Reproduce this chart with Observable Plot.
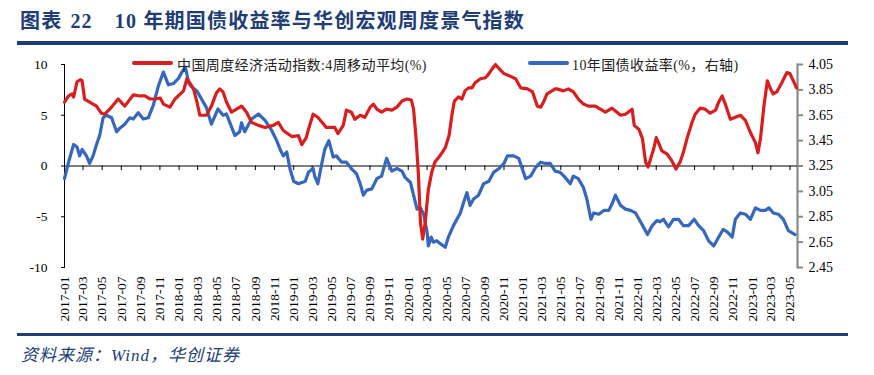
<!DOCTYPE html>
<html><head><meta charset="utf-8">
<script src="https://cdn.jsdelivr.net/npm/d3@7"></script>
<script src="https://cdn.jsdelivr.net/npm/@observablehq/plot@0.6"></script>
<style>
body{margin:0;background:#fff;}
#wrap{position:relative;width:874px;height:375px;overflow:hidden;font-family:"Liberation Serif","Noto Sans CJK SC",serif;}
#title{position:absolute;left:20px;top:5px;font-size:20px;letter-spacing:1.2px;font-weight:bold;color:#203d76;white-space:nowrap;font-family:"Liberation Serif","Noto Sans CJK SC",serif;}
.rule{position:absolute;left:17px;width:831px;background:#203d76;}
#chart{position:absolute;left:0;top:0;}
.leg{position:absolute;font-size:14px;color:#222;white-space:nowrap;letter-spacing:0.4px;}
.legline{position:absolute;height:4px;border-radius:2px;}
#source{position:absolute;left:21px;top:341px;font-size:17px;letter-spacing:1px;font-style:italic;color:#203d76;white-space:nowrap;}
</style></head>
<body>
<div id="wrap">
  <div id="title">图表<span style="margin-left:8px">22</span><span style="margin-left:22px">10</span> 年期国债收益率与华创宏观周度景气指数</div>
  <div class="rule" style="top:41px;height:4px"></div>
  <div id="chart"></div>
  <div class="legline" id="l1" style="left:132px;top:61px;width:41px"></div>
  <div class="leg" id="t1" style="left:177px;top:54px"></div>
  <div class="legline" id="l2" style="left:528px;top:61px;width:41px"></div>
  <div class="leg" id="t2" style="left:572px;top:54px"></div>
  <div class="rule" style="top:333px;height:3px"></div>
  <div id="source">资料来源：Wind，华创证券</div>
</div>
<script>
// ---- data ----
const seriesNames = ["中国周度经济活动指数:4周移动平均(%)", "10年国债收益率(%，右轴)"];
const seriesColors = ["#d81e1e", "#3567bd"];

const leftTicks = [-10, -5, 0, 5, 10];
const rightTicks = [2.45, 2.65, 2.85, 3.05, 3.25, 3.45, 3.65, 3.85, 4.05];
const rightRange = [2.45, 4.05];
const leftRange = [-10, 10];

const xTickLabels = ["2017-01","2017-03","2017-05","2017-07","2017-09","2017-11",
"2018-01","2018-03","2018-05","2018-07","2018-09","2018-11",
"2019-01","2019-03","2019-05","2019-07","2019-09","2019-11",
"2020-01","2020-03","2020-05","2020-07","2020-09","2020-11",
"2021-01","2021-03","2021-05","2021-07","2021-09","2021-11",
"2022-01","2022-03","2022-05","2022-07","2022-09","2022-11",
"2023-01","2023-03","2023-05"];
const xDomain = ["2017-01-01", "2023-05-25"];

const activity = [
["2017-01-01",6.3],["2017-01-14",6.9],["2017-01-25",7.1],["2017-01-30",6.8],["2017-02-10",8.3],["2017-02-20",8.5],
["2017-02-26",8.4],["2017-03-06",6.6],["2017-03-22",6.3],["2017-04-02",6.1],["2017-04-13",5.9],["2017-04-28",5.2],
["2017-05-09",5.1],["2017-05-25",5.6],["2017-06-21",6.6],["2017-07-12",5.9],["2017-08-08",7.0],["2017-08-29",6.9],
["2017-09-14",6.9],["2017-10-01",6.6],["2017-10-16",6.6],["2017-11-02",6.7],["2017-11-12",6.1],["2017-12-03",5.8],
["2017-12-19",6.6],["2018-01-05",7.1],["2018-01-15",7.4],["2018-01-26",8.6],["2018-02-06",8.1],["2018-02-16",7.6],
["2018-02-27",6.3],["2018-03-08",5.0],["2018-03-29",5.0],["2018-04-14",5.9],["2018-04-30",7.2],["2018-05-10",7.6],
["2018-05-21",7.3],["2018-06-01",6.3],["2018-06-17",5.3],["2018-07-03",5.6],["2018-07-19",5.9],["2018-08-04",5.3],
["2018-08-20",4.3],["2018-09-11",4.0],["2018-10-02",3.8],["2018-10-28",4.0],["2018-11-13",4.3],["2018-11-29",3.5],
["2018-12-26",2.9],["2019-01-16",3.0],["2019-01-27",2.1],["2019-02-10",2.8],["2019-02-17",3.6],["2019-03-04",5.1],
["2019-03-19",4.8],["2019-04-15",3.8],["2019-05-12",3.8],["2019-05-22",3.2],["2019-06-08",4.0],["2019-06-18",5.5],
["2019-07-04",5.3],["2019-07-15",4.6],["2019-08-01",5.0],["2019-08-16",4.8],["2019-09-02",5.8],["2019-09-12",6.1],
["2019-09-23",5.6],["2019-10-08",5.3],["2019-10-24",5.6],["2019-11-10",5.5],["2019-11-26",5.8],["2019-12-12",6.4],
["2019-12-28",6.6],["2020-01-11",6.5],["2020-01-18",5.6],["2020-01-26",2.7],["2020-02-02",-0.6],["2020-02-09",-5.6],
["2020-02-16",-7.2],["2020-02-24",-5.6],["2020-03-05",-2.3],["2020-03-16",-0.6],["2020-03-26",0.4],["2020-04-11",1.0],
["2020-04-28",1.8],["2020-05-10",3.0],["2020-05-19",5.0],["2020-05-27",6.4],["2020-06-09",6.8],["2020-06-20",6.6],
["2020-06-30",7.4],["2020-07-11",7.7],["2020-07-22",7.7],["2020-08-01",8.2],["2020-08-18",8.6],["2020-09-03",8.7],
["2020-09-14",9.1],["2020-09-25",9.6],["2020-10-05",10.0],["2020-10-16",9.6],["2020-11-01",9.1],["2020-11-17",8.9],
["2020-12-08",8.6],["2020-12-24",7.7],["2021-01-15",7.6],["2021-01-31",7.3],["2021-02-15",5.9],["2021-02-26",5.8],
["2021-03-07",6.3],["2021-03-18",7.1],["2021-04-03",7.4],["2021-04-13",7.6],["2021-04-19",7.6],["2021-05-09",7.4],
["2021-05-25",7.6],["2021-06-10",7.3],["2021-06-26",6.6],["2021-07-12",6.1],["2021-07-28",5.9],["2021-08-19",5.9],
["2021-09-04",5.6],["2021-09-20",5.3],["2021-10-11",5.7],["2021-10-27",5.3],["2021-11-07",5.0],["2021-11-23",5.1],
["2021-12-14",5.6],["2021-12-21",4.0],["2022-01-05",3.6],["2022-01-16",2.7],["2022-01-26",0.4],["2022-02-03",-0.1],
["2022-02-11",0.7],["2022-02-21",1.7],["2022-03-01",2.8],["2022-03-08",2.3],["2022-03-19",1.5],["2022-04-04",1.2],
["2022-04-20",0.5],["2022-05-03",-0.3],["2022-05-16",0.4],["2022-05-26",1.3],["2022-06-07",2.7],["2022-06-23",4.3],
["2022-07-03",5.1],["2022-07-19",5.7],["2022-08-04",5.6],["2022-08-20",5.2],["2022-09-06",5.5],["2022-09-16",6.3],
["2022-09-27",6.9],["2022-10-07",6.1],["2022-10-23",4.6],["2022-11-08",4.8],["2022-11-24",5.0],["2022-12-10",4.5],
["2022-12-26",3.3],["2023-01-11",2.3],["2023-01-19",1.3],["2023-01-27",2.7],["2023-02-07",5.9],["2023-02-18",8.4],
["2023-02-28",7.6],["2023-03-09",7.1],["2023-03-20",7.3],["2023-04-05",8.2],["2023-04-21",9.2],["2023-05-01",9.1],
["2023-05-22",7.7]
];

const yield10y = [
["2017-01-01",3.15],["2017-01-14",3.28],["2017-01-30",3.42],["2017-02-10",3.40],["2017-02-18",3.33],["2017-02-26",3.38],
["2017-03-12",3.33],["2017-03-22",3.27],["2017-04-02",3.33],["2017-04-13",3.42],["2017-04-23",3.49],["2017-05-04",3.63],
["2017-05-15",3.65],["2017-05-31",3.63],["2017-06-16",3.52],["2017-06-27",3.55],["2017-07-12",3.58],["2017-07-28",3.63],
["2017-08-08",3.62],["2017-08-24",3.67],["2017-09-09",3.62],["2017-09-25",3.63],["2017-10-11",3.73],["2017-10-27",3.88],
["2017-11-12",3.99],["2017-11-28",3.89],["2017-12-14",3.90],["2017-12-30",3.94],["2018-01-10",3.99],["2018-01-21",4.03],
["2018-02-01",3.90],["2018-02-11",3.87],["2018-02-27",3.84],["2018-03-13",3.78],["2018-03-29",3.71],["2018-04-14",3.58],
["2018-05-05",3.70],["2018-05-21",3.65],["2018-06-01",3.66],["2018-06-12",3.59],["2018-06-28",3.49],["2018-07-13",3.52],
["2018-07-19",3.59],["2018-07-29",3.52],["2018-08-20",3.62],["2018-09-11",3.66],["2018-10-02",3.61],["2018-10-23",3.53],
["2018-11-08",3.45],["2018-11-19",3.38],["2018-11-29",3.33],["2018-12-10",3.36],["2018-12-20",3.23],["2019-01-01",3.13],
["2019-01-16",3.11],["2019-01-27",3.12],["2019-02-07",3.13],["2019-02-17",3.20],["2019-03-04",3.23],["2019-03-09",3.17],
["2019-03-19",3.11],["2019-03-30",3.25],["2019-04-10",3.38],["2019-04-23",3.45],["2019-05-07",3.32],["2019-05-17",3.33],
["2019-06-03",3.28],["2019-06-18",3.28],["2019-07-04",3.23],["2019-07-20",3.19],["2019-08-01",3.11],["2019-08-11",3.02],
["2019-08-22",3.06],["2019-09-07",3.07],["2019-09-23",3.15],["2019-10-08",3.17],["2019-10-24",3.31],["2019-11-10",3.21],
["2019-11-26",3.23],["2019-12-12",3.21],["2019-12-22",3.16],["2020-01-08",3.12],["2020-01-18",3.02],["2020-01-29",2.91],
["2020-02-09",2.92],["2020-02-19",2.87],["2020-03-01",2.73],["2020-03-05",2.62],["2020-03-14",2.69],["2020-03-21",2.65],
["2020-04-01",2.66],["2020-04-11",2.64],["2020-04-28",2.61],["2020-05-08",2.69],["2020-05-24",2.78],["2020-06-04",2.83],
["2020-06-15",2.88],["2020-06-25",2.96],["2020-07-06",3.04],["2020-07-16",2.94],["2020-07-27",2.99],["2020-08-12",3.02],
["2020-08-28",3.11],["2020-09-14",3.13],["2020-09-29",3.20],["2020-10-16",3.23],["2020-11-01",3.27],["2020-11-12",3.33],
["2020-12-02",3.33],["2020-12-18",3.31],["2021-01-09",3.15],["2021-01-25",3.17],["2021-02-10",3.24],["2021-02-26",3.28],
["2021-03-12",3.27],["2021-03-28",3.27],["2021-04-13",3.21],["2021-04-29",3.20],["2021-05-15",3.16],["2021-05-31",3.11],
["2021-06-10",3.17],["2021-06-26",3.15],["2021-07-12",3.08],["2021-07-23",2.99],["2021-08-05",2.83],["2021-08-14",2.88],
["2021-08-30",2.87],["2021-09-15",2.90],["2021-10-01",2.90],["2021-10-11",2.95],["2021-10-22",3.02],["2021-11-07",2.94],
["2021-11-23",2.91],["2021-12-09",2.90],["2021-12-25",2.88],["2022-01-10",2.81],["2022-02-01",2.71],["2022-02-16",2.78],
["2022-03-03",2.82],["2022-03-13",2.81],["2022-03-24",2.83],["2022-04-09",2.77],["2022-04-25",2.83],["2022-05-11",2.83],
["2022-05-26",2.78],["2022-06-12",2.78],["2022-06-30",2.83],["2022-07-14",2.78],["2022-07-30",2.74],["2022-08-15",2.66],
["2022-08-31",2.62],["2022-09-16",2.69],["2022-09-30",2.75],["2022-10-13",2.73],["2022-10-29",2.69],["2022-11-08",2.83],
["2022-11-24",2.88],["2022-12-10",2.87],["2022-12-26",2.83],["2023-01-11",2.92],["2023-01-27",2.90],["2023-02-12",2.90],
["2023-02-23",2.92],["2023-03-09",2.88],["2023-03-25",2.87],["2023-04-10",2.83],["2023-04-26",2.74],["2023-05-17",2.71]
];

// ---- build ----
const parse = d3.utcParse("%Y-%m-%d");
const parseM = d3.utcParse("%Y-%m");
const toLeft = d3.scaleLinear().domain(rightRange).range(leftRange);
const act = activity.map(([d, v]) => ({date: parse(d), value: v}));
const yld = yield10y.map(([d, v]) => ({date: parse(d), value: toLeft(v), raw: v}));
const tickDates = xTickLabels.map(parseM);

const chart = Plot.plot({
  width: 874, height: 335,
  marginTop: 64, marginBottom: 68, marginLeft: 64, marginRight: 77,
  style: {fontFamily: "'Liberation Serif','Noto Sans CJK SC',serif", fontSize: "13.5px", color: "#000", background: "transparent", overflow: "visible"},
  x: {type: "utc", domain: xDomain.map(parse)},
  y: {domain: leftRange},
  marks: [
    Plot.frame({anchor: "left", stroke: "#000", strokeWidth: 1}),
    Plot.axisY(leftTicks, {anchor: "left", tickSize: 3, tickPadding: 14, tickFormat: d => String(d), label: null, fontSize: 13.5}),
    Plot.frame({anchor: "right", stroke: "#8a8a8a", strokeWidth: 2.2}),
    Plot.axisY(rightTicks.map(toLeft), {anchor: "right", tickSize: 5, tickPadding: 6, stroke: "#8a8a8a", strokeWidth: 2, tickFormat: d => toLeft.invert(d).toFixed(2), label: null, fontSize: 14}),
    Plot.ruleY([0], {stroke: "#000", strokeWidth: 1.2}),
    Plot.ruleX(tickDates, {y1: 0, y2: -0.45, stroke: "#000", strokeWidth: 1}),
    Plot.axisX(tickDates, {anchor: "bottom", tickSize: 0, tickPadding: 9, tickRotate: -90, tickFormat: d3.utcFormat("%Y-%m"), label: null, fontSize: 13.5}),
    Plot.line(yld, {x: "date", y: "value", stroke: seriesColors[1], strokeWidth: 3.2, strokeLinejoin: "round"}),
    Plot.line(act, {x: "date", y: "value", stroke: seriesColors[0], strokeWidth: 3.2, strokeLinejoin: "round"})
  ]
});
document.getElementById("chart").appendChild(chart);
document.getElementById("l1").style.background = seriesColors[0];
document.getElementById("l2").style.background = seriesColors[1];
document.getElementById("t1").textContent = seriesNames[0];
document.getElementById("t2").textContent = seriesNames[1];
</script>
</body></html>
